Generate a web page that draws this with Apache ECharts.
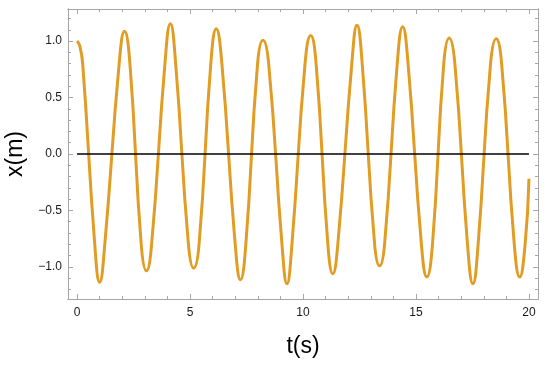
<!DOCTYPE html>
<html>
<head>
<meta charset="utf-8">
<script src="https://cdn.jsdelivr.net/npm/echarts@6/dist/echarts.min.js"></script>
<style>
  html, body { margin: 0; padding: 0; background: #fff; }
  #chart { width: 550px; height: 367px; }
</style>
</head>
<body>
<div id="chart"></div>
<script>
// start, each extremum and where the curve crosses +-0.8 around it
const tVals = [0, 0.12, 0.25,
  0.784, 1.0, 1.228,   1.864, 2.10, 2.34,   2.84, 3.07, 3.30,
  3.89, 4.13, 4.365,   4.93, 5.16, 5.40,    5.92, 6.16, 6.41,
  7.00, 7.235, 7.47,   7.99, 8.23, 8.48,    9.07, 9.29, 9.51,
  10.09, 10.34, 10.58, 11.10, 11.32, 11.54, 12.16, 12.39, 12.62,
  13.17, 13.39, 13.61, 14.17, 14.41, 14.65, 15.24, 15.48, 15.73,
  16.23, 16.47, 16.72, 17.28, 17.52, 17.75, 18.30, 18.55, 18.79,
  19.35, 19.59, 19.83, 20];
const xVals = [1.0, 0.96, 0.8,
  -0.8, -1.137, -0.8,  0.8, 1.087, 0.8,     -0.8, -1.035, -0.8,
  0.8, 1.155, 0.8,     -0.8, -1.011, -0.8,  0.8, 1.11, 0.8,
  -0.8, -1.114, -0.8,  0.8, 1.007, 0.8,     -0.8, -1.15, -0.8,
  0.8, 1.051, 0.8,     -0.8, -1.061, -0.8,  0.8, 1.142, 0.8,
  -0.8, -0.99, -0.8,   0.8, 1.128, 0.8,     -0.8, -1.09, -0.8,
  0.8, 1.027, 0.8,     -0.8, -1.15, -0.8,   0.8, 1.022, 0.8,
  -0.8, -1.09, -0.8, -0.22];
const zeroT = [0, 20];
const zeroX = [0, 0];

const xMajor = [0, 5, 10, 15, 20];
const xMinor = [1, 2, 3, 4, 6, 7, 8, 9, 11, 12, 13, 14, 16, 17, 18, 19];
const yMajor = [-1, -0.5, 0, 0.5, 1];
const yMinor = [-1.2, -1.1, -0.9, -0.8, -0.7, -0.6, -0.4, -0.3, -0.2, -0.1,
  0.1, 0.2, 0.3, 0.4, 0.6, 0.7, 0.8, 0.9, 1.1, 1.2];

const frameCol = '#a6a6a6';
const font = '"Liberation Sans", Arial, sans-serif';

const pairs = (a, b) => a.map((v, i) => [v, b[i]]);

function xAx(pos, ticks, len, withLabel) {
  return {
    type: 'value', position: pos, min: -0.4, max: 20.4,
    axisLine: { show: true, onZero: false, lineStyle: { color: frameCol, width: 1 } },
    axisTick: { show: true, inside: true, length: len, customValues: ticks, lineStyle: { color: frameCol } },
    axisLabel: withLabel ? {
      show: true, customValues: ticks, margin: 8, fontSize: 12, color: '#1a1a1a', fontFamily: font,
      formatter: v => String(v)
    } : { show: false },
    splitLine: { show: false }
  };
}
function yAx(pos, ticks, len, withLabel) {
  return {
    type: 'value', position: pos, min: -1.285, max: 1.285,
    axisLine: { show: true, onZero: false, lineStyle: { color: frameCol, width: 1 } },
    axisTick: { show: true, inside: true, length: len, customValues: ticks, lineStyle: { color: frameCol } },
    axisLabel: withLabel ? {
      show: true, customValues: ticks, margin: 6, fontSize: 12, color: '#1a1a1a', fontFamily: font,
      formatter: v => v.toFixed(1).replace('-', '\u2212')
    } : { show: false },
    splitLine: { show: false }
  };
}

const chart = echarts.init(document.getElementById('chart'), null, { renderer: 'canvas' });

const xs = [xAx('bottom', xMajor, 5, true), xAx('bottom', xMinor, 3, false),
  xAx('top', xMajor, 5, false), xAx('top', xMinor, 3, false)];
xs[0].name = 't(s)';
xs[0].nameLocation = 'middle';
xs[0].nameGap = 36;
xs[0].nameTextStyle = { fontSize: 23, color: '#000', fontFamily: font };

const ys = [yAx('left', yMajor, 5, true), yAx('left', yMinor, 3, false),
  yAx('right', yMajor, 5, false), yAx('right', yMinor, 3, false)];
ys[0].name = 'x(m)';
ys[0].nameLocation = 'middle';
ys[0].nameGap = 38;
ys[0].nameTextStyle = { fontSize: 23, color: '#000', fontFamily: font };

chart.setOption({
  animation: false,
  backgroundColor: '#fff',
  grid: { left: 68, right: 12, top: 9, bottom: 68, containLabel: false, outerBoundsMode: 'none' },
  xAxis: xs,
  yAxis: ys,
  series: [
    {
      type: 'line', xAxisIndex: 0, yAxisIndex: 0,
      data: pairs(tVals, xVals),
      smooth: 0.5, showSymbol: false, symbol: 'none',
      lineStyle: { color: '#e19c24', width: 3 }
    },
    {
      type: 'line', xAxisIndex: 0, yAxisIndex: 0,
      data: pairs(zeroT, zeroX),
      showSymbol: false, symbol: 'none',
      lineStyle: { color: '#000', width: 1.6 }
    }
  ]
});
</script>
</body>
</html>
